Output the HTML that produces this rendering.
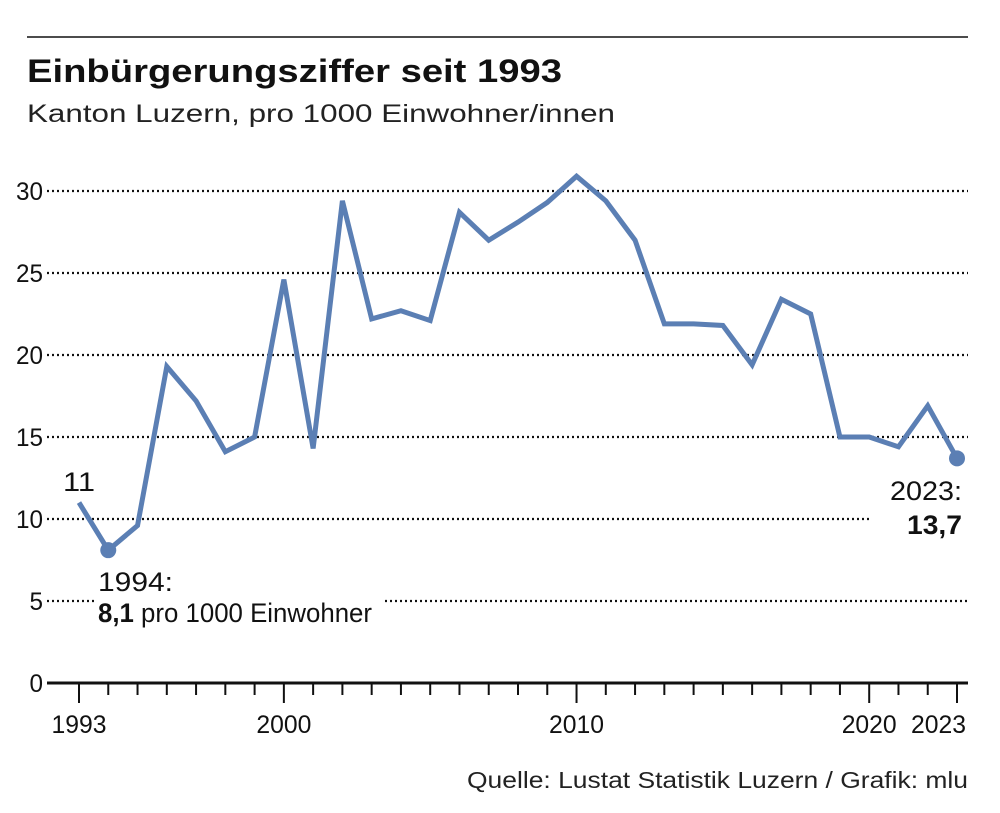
<!DOCTYPE html>
<html><head><meta charset="utf-8"><style>
body{margin:0;background:#fff;width:1000px;height:808px;overflow:hidden;font-family:"Liberation Sans",sans-serif}
</style></head><body>
<svg width="1000" height="808" xmlns="http://www.w3.org/2000/svg">
<line x1="27" y1="37" x2="968" y2="37" stroke="#111" stroke-width="1.5"/>
<text x="27" y="82" font-size="32" font-weight="bold" fill="#111" textLength="535" lengthAdjust="spacingAndGlyphs">Einbürgerungsziffer seit 1993</text>
<text x="27" y="122" font-size="25" fill="#222" textLength="588" lengthAdjust="spacingAndGlyphs">Kanton Luzern, pro 1000 Einwohner/innen</text>
<g id="grid"></g><g id="axis"></g><g id="series"></g>
<text x="63" y="491" font-size="27" fill="#111" textLength="32" lengthAdjust="spacingAndGlyphs">11</text>
<rect x="95" y="565" width="285" height="66" fill="#fff"/>
<text x="98" y="591" font-size="27" fill="#111" textLength="75" lengthAdjust="spacingAndGlyphs">1994:</text>
<text x="98" y="622" font-size="27" fill="#111" textLength="274" lengthAdjust="spacingAndGlyphs"><tspan font-weight="bold">8,1</tspan> pro 1000 Einwohner</text>
<text x="890" y="500" font-size="27" fill="#111" textLength="72" lengthAdjust="spacingAndGlyphs">2023:</text>
<text x="907" y="534" font-size="27" font-weight="bold" fill="#111" textLength="55" lengthAdjust="spacingAndGlyphs">13,7</text>
<text x="467" y="788" font-size="23" fill="#222" textLength="501" lengthAdjust="spacingAndGlyphs">Quelle: Lustat Statistik Luzern / Grafik: mlu</text>
</svg>
<script>
const years=[1993,1994,1995,1996,1997,1998,1999,2000,2001,2002,2003,2004,2005,2006,2007,2008,2009,2010,2011,2012,2013,2014,2015,2016,2017,2018,2019,2020,2021,2022,2023];
const values=[11,8.1,9.6,19.3,17.2,14.1,15.0,24.6,14.3,29.4,22.2,22.7,22.1,28.7,27.0,28.1,29.3,30.9,29.4,27.0,21.9,21.9,21.8,19.4,23.4,22.5,15.0,15.0,14.4,16.9,13.7];
const yTicks=[0,5,10,15,20,25,30];
const xLabels=[1993,2000,2010,2020,2023];
const NS="http://www.w3.org/2000/svg";
const x=y=>79+(y-1993)*(957-79)/30;
const yS=v=>683-v*(683-191)/30;
function mk(t,a,p){const e=document.createElementNS(NS,t);for(const k in a)e.setAttribute(k,a[k]);p.appendChild(e);return e;}
const grid=document.getElementById('grid'),axis=document.getElementById('axis'),ser=document.getElementById('series');
yTicks.forEach(v=>{
  const yy=yS(v);
  const n=String(v).length;
  const t=mk('text',{x:43-13.5*n,y:yy+9,'font-size':25,fill:'#111',textLength:13.5*n,lengthAdjust:'spacingAndGlyphs'},grid);t.textContent=v;
  
  
  if(v===0)return;
  const segs=v===5?[[47,95],[385,968]]:v===10?[[47,872]]:[[47,968]];
  segs.forEach(s=>{const l=mk('line',{x1:s[0],x2:s[1],y1:yy,y2:yy,stroke:'#111','stroke-width':2.2,'stroke-dasharray':'2 3'},grid);
  
  });
});
const base=mk('line',{x1:47,x2:968,y1:683,y2:683,stroke:'#111','stroke-width':3},axis);


years.forEach(yr=>{const maj=xLabels.includes(yr);
  const tk=mk('line',{x1:x(yr),x2:x(yr),y1:683,y2:maj?703:695,stroke:'#111','stroke-width':2},axis);
  
  });
xLabels.forEach((yr,i)=>{const xx=x(yr);const lx=i===xLabels.length-1?Math.min(xx-27.5,966-55):xx-27.5;
  const t=mk('text',{x:lx,y:733,'font-size':25,fill:'#111',textLength:55,lengthAdjust:'spacingAndGlyphs'},axis);t.textContent=yr;
  
  });
const pl=mk('polyline',{points:years.map((yr,i)=>x(yr)+','+yS(values[i])).join(' '),fill:'none',stroke:'#5b7fb4','stroke-width':5,'stroke-linejoin':'miter'},ser);


[1,values.length-1].forEach(i=>{const c=mk('circle',{cx:x(years[i]),cy:yS(values[i]),r:8,fill:'#5b7fb4'},ser);
  
  });
</script>
</body></html>
